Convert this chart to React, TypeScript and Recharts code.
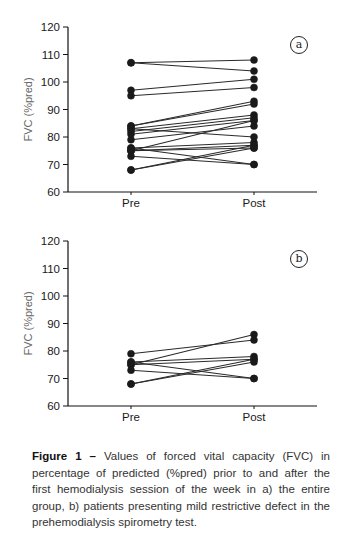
import React from "react";
import { LineChart, Line, XAxis, YAxis } from "recharts";

/** Time points on the x axis */
const times = ["Pre", "Post"];

/** Panel a: entire group, FVC %pred before and after dialysis */
const groupPre = [107, 107, 97, 95, 84, 84, 83, 82, 81, 83, 79, 76, 75, 75, 75, 76, 73, 68, 68];
const groupPost = [108, 104, 101, 98, 93, 92, 88, 87, 86, 80, 84, 78, 77, 86, 76, 70, 70, 77, 76];

/** Panel b: mild restrictive defect subgroup */
const mildPre = [79, 75, 76, 75, 76, 73, 68, 68];
const mildPost = [84, 86, 78, 77, 70, 70, 77, 76];

const yTicks = [60, 70, 80, 90, 100, 110, 120];

const FONT = "'Liberation Sans', Arial, sans-serif";

function buildRows(pre: number[], post: number[]) {
  return times.map((t, i) => {
    const row: Record<string, string | number> = { name: t };
    const src = i === 0 ? pre : post;
    src.forEach((v, k) => {
      row[`p${k}`] = v;
    });
    return row;
  });
}

function PairedPanel({
  pre,
  post,
  tag,
  top,
}: {
  pre: number[];
  post: number[];
  tag: string;
  top: number;
}) {
  const rows = buildRows(pre, post);
  return (
    <div style={{ position: "absolute", left: 0, top, width: 352, height: 215 }}>
      <LineChart
        width={352}
        height={215}
        data={rows}
        margin={{ top: 27, right: 35, bottom: 0, left: 0 }}
      >
        <XAxis
          dataKey="name"
          height={23}
          padding={{ left: 63, right: 63 }}
          axisLine={{ stroke: "#111", strokeWidth: 1.2 }}
          tickLine={{ stroke: "#111" }}
          tickSize={3}
          tickMargin={4}
          tick={{ fill: "#1a1a1a", fontSize: 11.5, fontFamily: FONT }}
        />
        <YAxis
          width={68}
          domain={[60, 120]}
          ticks={yTicks}
          interval={0}
          axisLine={{ stroke: "#111", strokeWidth: 1.2 }}
          tickLine={{ stroke: "#111" }}
          tickSize={5}
          tickMargin={3}
          tick={{ fill: "#1a1a1a", fontSize: 11.5, fontFamily: FONT }}
          label={{
            value: "FVC (%pred)",
            angle: -90,
            position: "center",
            dx: -6,
            fill: "#666",
            fontSize: 11,
            fontFamily: FONT,
          }}
        />
        {pre.map((_, k) => (
          <Line
            key={k}
            dataKey={`p${k}`}
            type="linear"
            stroke="#2a2a2a"
            strokeWidth={1.2}
            dot={{ r: 3.5, fill: "#1a1a1a", stroke: "#1a1a1a", strokeWidth: 0.5 }}
            isAnimationActive={false}
          />
        ))}
      </LineChart>
      {/* circled panel tag */}
      <div
        style={{
          position: "absolute",
          left: 290,
          top: 36,
          width: 16,
          height: 16,
          border: "1px solid #222",
          borderRadius: "50%",
          fontFamily: "'DejaVu Serif', serif",
          fontSize: 11,
          lineHeight: "15px",
          textAlign: "center",
          color: "#222",
        }}
      >
        {tag}
      </div>
    </div>
  );
}

const captionLines = [
  "Values of forced vital capacity (FVC) in",
  "percentage of predicted (%pred) prior to and after the",
  "first hemodialysis session of the week in a) the entire",
  "group, b) patients presenting mild restrictive defect in the",
  "prehemodialysis spirometry test.",
];

export default function App() {
  return (
    <div
      style={{
        position: "absolute",
        left: 0,
        top: 0,
        width: 352,
        height: 550,
        background: "#fff",
        overflow: "hidden",
      }}
    >
      <PairedPanel pre={groupPre} post={groupPost} tag="a" top={0} />
      <PairedPanel pre={mildPre} post={mildPost} tag="b" top={214} />
      <div
        style={{
          position: "absolute",
          left: 32,
          top: 448,
          width: 298,
          fontFamily: FONT,
          fontSize: 11.5,
          lineHeight: "16.5px",
          color: "#333",
        }}
      >
        {captionLines.map((line, i) => (
          <div
            key={i}
            style={{ textAlign: "justify", textAlignLast: i < captionLines.length - 1 ? "justify" : "left" }}
          >
            {i === 0 && <b style={{ color: "#111" }}>Figure 1 – </b>}
            {line}
          </div>
        ))}
      </div>
    </div>
  );
}
